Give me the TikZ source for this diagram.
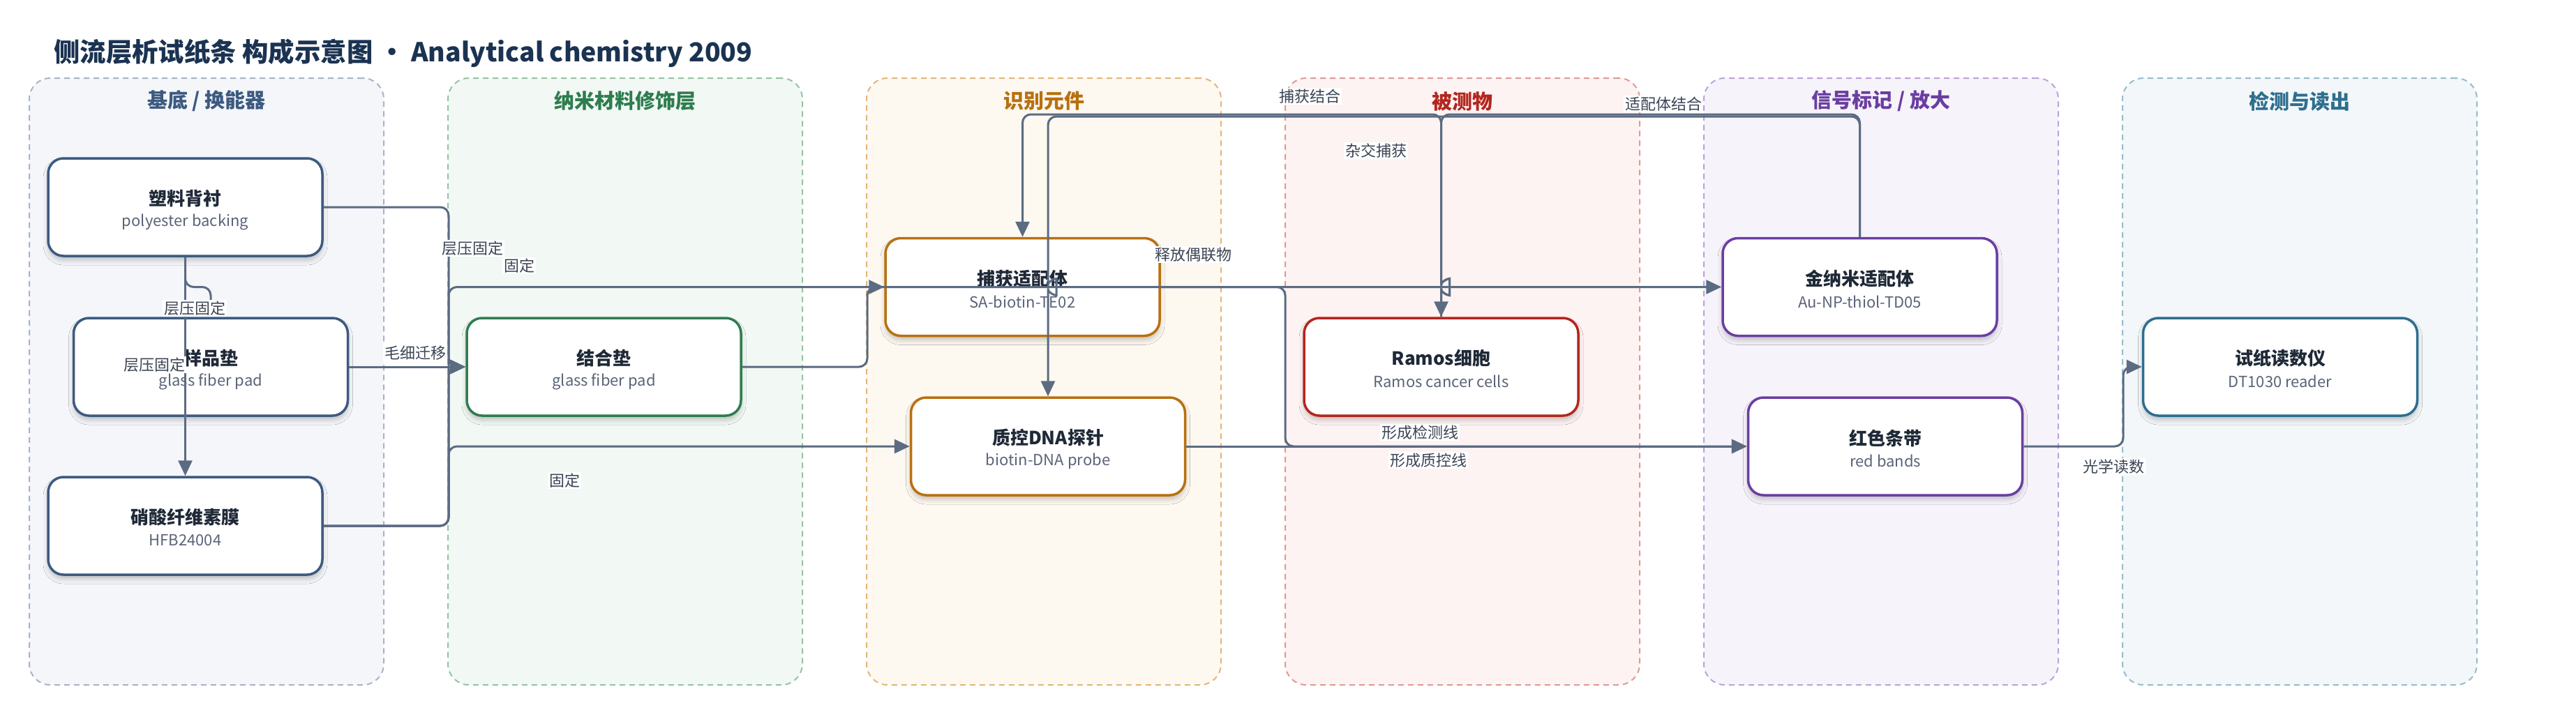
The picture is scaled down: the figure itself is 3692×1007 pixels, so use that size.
\documentclass[tikz,border=0pt]{standalone}
\usepackage{fontspec}
\setmainfont{Noto Sans CJK SC}
\usetikzlibrary{arrows.meta,calc,shadows.blur}
\definecolor{edgec}{HTML}{5B6B82}
\definecolor{ttlc}{HTML}{1F2937}
\definecolor{subc}{HTML}{5A6478}
\definecolor{lblc}{HTML}{3A4454}
\definecolor{headc}{HTML}{1B3352}
\definecolor{gf1}{HTML}{F4F6FA}\definecolor{gd1}{HTML}{A7B4C8}\definecolor{gt1}{HTML}{3D5A80}
\definecolor{gf2}{HTML}{F2F8F4}\definecolor{gd2}{HTML}{95C4A5}\definecolor{gt2}{HTML}{2E7D4F}
\definecolor{gf3}{HTML}{FDF8F0}\definecolor{gd3}{HTML}{E3B77A}\definecolor{gt3}{HTML}{B8700F}
\definecolor{gf4}{HTML}{FDF3F2}\definecolor{gd4}{HTML}{E09A96}\definecolor{gt4}{HTML}{B3261E}
\definecolor{gf5}{HTML}{F6F3FB}\definecolor{gd5}{HTML}{BBA3DB}\definecolor{gt5}{HTML}{6A3EA1}
\definecolor{gf6}{HTML}{F3F7F9}\definecolor{gd6}{HTML}{98BCCB}\definecolor{gt6}{HTML}{2E6E8E}
\newcommand{\myfs}[1]{\fontsize{#1}{#1}\selectfont}
\newcommand{\mkbox}[6]{%
  \node[box, draw=#4] (#1) at (#2,#3) {};
  \node[ttl] (#1-t) at ($(#1.center)+(0,-12)$) {#5};
  \node[sub] (#1-s) at ($(#1.center)+(0,21)$) {#6};}
\begin{document}
\begin{tikzpicture}[x=1pt,y=-1pt,
  group/.style={rectangle, rounded corners=30pt, dash pattern=on 8pt off 6pt, line width=2pt, minimum width=508pt, minimum height=870pt, inner sep=0pt},
  gtitle/.style={font=\bfseries\myfs{29}, inner sep=0pt},
  box/.style={rectangle, rounded corners=22pt, line width=3.5pt, fill=white, minimum width=393pt, minimum height=140pt, inner sep=0pt,
     blur shadow={shadow xshift=0pt, shadow yshift=-6pt, shadow blur radius=7pt, shadow opacity=22}},
  ttl/.style={font=\bfseries\myfs{26}, text=ttlc, inner sep=0pt},
  sub/.style={font=\myfs{22}, text=subc, inner sep=0pt},
  edge/.style={draw=edgec, line width=3pt, rounded corners=12pt, -{Triangle[length=22pt,width=20pt]}},
  lbl/.style={font=\myfs{22}, text=lblc, fill=white, inner sep=2pt}
]
\fill[white] (0,0) rectangle (3692,1007);
\useasboundingbox (0,0) rectangle (3692,1007);

\node[anchor=west, font=\bfseries\myfs{37.4}, text=headc, inner sep=0pt] (title) at (77,76) {侧流层析试纸条 构成示意图 · Analytical chemistry 2009};

% groups
\node[group, fill=gf1, draw=gd1] (g1) at (296,547) {};
\node[group, fill=gf2, draw=gd2] (g2) at (896,547) {};
\node[group, fill=gf3, draw=gd3] (g3) at (1496,547) {};
\node[group, fill=gf4, draw=gd4] (g4) at (2096,547) {};
\node[group, fill=gf5, draw=gd5] (g5) at (2696,547) {};
\node[group, fill=gf6, draw=gd6] (g6) at (3296,547) {};
\node[gtitle, text=gt1] (g1t) at (296,145) {基底 / 换能器};
\node[gtitle, text=gt2] (g2t) at (896,145) {纳米材料修饰层};
\node[gtitle, text=gt3] (g3t) at (1496,145) {识别元件};
\node[gtitle, text=gt4] (g4t) at (2096,145) {被测物};
\node[gtitle, text=gt5] (g5t) at (2696,145) {信号标记 / 放大};
\node[gtitle, text=gt6] (g6t) at (3296,145) {检测与读出};

% nodes
\mkbox{n1}{265.5}{297}{gt1}{塑料背衬}{polyester backing}
\mkbox{n2}{302}{526}{gt1}{样品垫}{glass fiber pad}
\mkbox{n3}{265.5}{754}{gt1}{硝酸纤维素膜}{HFB24004}
\mkbox{n4}{865.5}{526}{gt2}{结合垫}{glass fiber pad}
\mkbox{n5}{1465.5}{411.5}{gt3}{捕获适配体}{SA-biotin-TE02}
\mkbox{n6}{1502}{640}{gt3}{质控DNA探针}{biotin-DNA probe}
\mkbox{n7}{2065.5}{526}{gt4}{Ramos细胞}{Ramos cancer cells}
\mkbox{n8}{2665.5}{411.5}{gt5}{金纳米适配体}{Au-NP-thiol-TD05}
\mkbox{n9}{2702}{640}{gt5}{红色条带}{red bands}
\mkbox{n10}{3268}{526}{gt6}{试纸读数仪}{DT1030 reader}

% helper coordinates
\coordinate (tL) at (643,0);
\coordinate (tM) at (1243,0);
\coordinate (tD) at (1842,0);
\coordinate (tR) at (3043,0);
\coordinate (topA) at (0,164);
\coordinate (topB) at (0,167);
\coordinate (h1) at (n7.north |- n5.west);
\coordinate (h2) at (n6.north |- n5.west);

% edges
\draw[edge] (n1.south) -- (n1.south |- n5.west) -- (n2.north |- n5.west) -- (n2.north);
\draw[edge] (n1.south) -- (n3.north);
\draw[edge] (n1.east) -- (n1.east -| tL) -- (tL |- n4.west) -- (n4.west);
\draw[edge] (n3.east) -- (n3.east -| tL) -- (tL |- n5.west) -- (n5.west);
\draw[edge] (n3.east) -- (n3.east -| tL) -- (tL |- n4.west) -- (n4.west);
\draw[edge] (n3.east) -- (n3.east -| tL) -- (tL |- n6.west) -- (n6.west);
\draw[edge] (n2.east) -- (n4.west);
\draw[edge] (n4.east) -- (n4.east -| tM) -- (tM |- n8.west) -- (n8.west);
\draw[edge] (n5.east) -- (n5.east -| tD) -- (tD |- n9.west) -- (n9.west);
\draw[edge] (n6.east) -- (n9.west);
\draw[edge] (n8.north) -- (n8.north |- topA) -- (h1 |- topA) -- ($(h1)+(0,-14)$)
   .. controls ($(h1)+(0,-10)$) and ($(h1)+(12,-12)$) .. ($(h1)+(12,0)$)
   .. controls ($(h1)+(12,12)$) and ($(h1)+(0,10)$) .. ($(h1)+(0,14)$) -- (n7.north);
\draw[edge] (n7.north) -- ($(h1)+(0,14)$)
   .. controls ($(h1)+(0,10)$) and ($(h1)+(12,12)$) .. ($(h1)+(12,0)$)
   .. controls ($(h1)+(12,-12)$) and ($(h1)+(0,-10)$) .. ($(h1)+(0,-14)$)
   -- (h1 |- topA) -- (n5.north |- topA) -- (n5.north);
\draw[edge] (n8.north) -- (n8.north |- topB) -- (h2 |- topB) -- ($(h2)+(0,-14)$)
   .. controls ($(h2)+(0,-10)$) and ($(h2)+(12,-12)$) .. ($(h2)+(12,0)$)
   .. controls ($(h2)+(12,12)$) and ($(h2)+(0,10)$) .. ($(h2)+(0,14)$) -- (n6.north);
\draw[edge] (n9.east) -- (n9.east -| tR) -- (tR |- n10.west) -- (n10.west);

% labels
\node[lbl] (l1) at (279,442) {层压固定};
\node[lbl] (l2) at (221,523) {层压固定};
\node[lbl] (l3) at (677,356) {层压固定};
\node[lbl] (l4) at (744,381) {固定};
\node[lbl] (l5) at (809,689) {固定};
\node[lbl] (l6) at (595,506) {毛细迁移};
\node[lbl] (l7) at (1710,365) {释放偶联物};
\node[lbl] (l8) at (2035,620) {形成检测线};
\node[lbl] (l9) at (2047,660) {形成质控线};
\node[lbl] (l10) at (2384,149) {适配体结合};
\node[lbl] (l11) at (1877,138) {捕获结合};
\node[lbl] (l12) at (1972,216) {杂交捕获};
\node[lbl] (l13) at (3029,669) {光学读数};
\end{tikzpicture}
\end{document}
